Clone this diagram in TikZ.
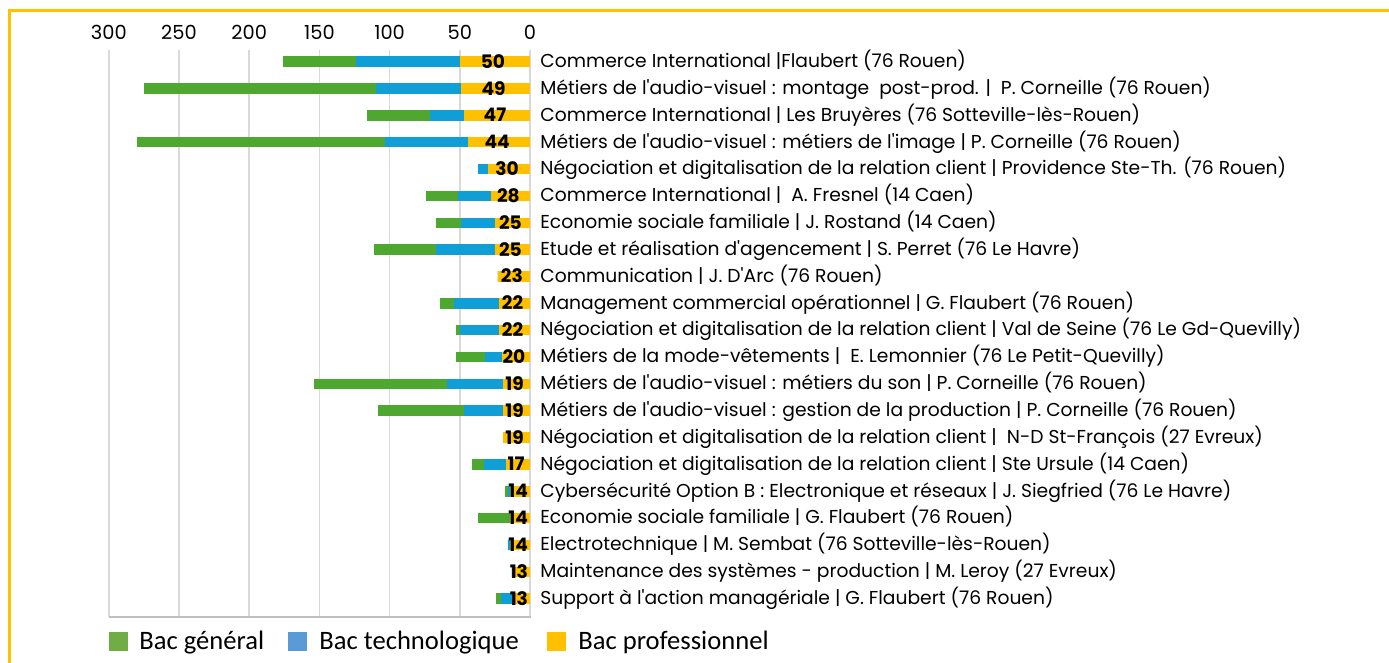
\documentclass[tikz,border=0pt]{standalone}
\usepackage{fontspec}
\setmainfont{Poppins}
\newfontfamily\legendfont{Carlito}
\usepackage{tikz}

\definecolor{bargen}{HTML}{4EA72E}
\definecolor{bartec}{HTML}{0F9ED5}
\definecolor{barpro}{HTML}{FFC000}
\definecolor{keygen}{HTML}{70AD47}
\definecolor{keytec}{HTML}{5B9BD5}
\definecolor{gridgray}{HTML}{D9D9D9}
\definecolor{axisgray}{HTML}{BFBFBF}

\tikzset{
  frameline/.style={barpro, line width=1.5pt},
  gridline/.style={gridgray, line width=0.75pt},
  axisline/.style={axisgray, line width=1pt},
  ticklabel/.style={anchor=base, inner sep=0pt, font=\fontsize{9.7}{12}\selectfont},
  catlabel/.style={anchor=base west, inner sep=0pt, font=\fontsize{9.35}{11}\selectfont},
  numlabel/.style={anchor=base, inner sep=0pt, font=\fontsize{9.3}{10}\selectfont\bfseries},
  keylabel/.style={anchor=base west, inner sep=0pt, font=\legendfont\fontsize{13.3}{15}\selectfont}
}

\begin{document}
\begin{tikzpicture}[x=0.5pt, y=-0.5pt]
	\useasboundingbox (0,0) rectangle (1389,663);
	% frame
	\draw [frameline] (9,663) -- (9,11) -- (1389,11);

	% grid and scale
	\foreach \v in {0,50,...,300} {
		\draw [gridline] ({530-1.404*\v},50) -- ({530-1.404*\v},617);
		\node [ticklabel] (tick\v) at ({530-1.404*\v},39.3) {\v};
	}
	\draw [axisline] (109,617) -- (531,617);

	% bars: professionnel / technologique / general / label
	\foreach \vp/\vt/\vg/\lab [count=\i] in {
		50/74/52/{Commerce International |Flaubert (76 Rouen)},
		49/61/165/{Métiers de l\textquotesingle audio-visuel : montage\ \ post-prod. |\ \ P. Corneille (76 Rouen)},
		47/24/45/{Commerce International | Les Bruyères (76 Sotteville-lès-Rouen)},
		44/59/177/{Métiers de l\textquotesingle audio-visuel : métiers de l\textquotesingle image | P. Corneille (76 Rouen)},
		30/7/0/{Négociation et digitalisation de la relation client | Providence Ste-Th. (76 Rouen)},
		28/23/23/{Commerce International |\ \ A. Fresnel (14 Caen)},
		25/24/18/{Economie sociale familiale | J. Rostand (14 Caen)},
		25/42/44/{Etude et réalisation d\textquotesingle agencement | S. Perret (76 Le Havre)},
		23/0/0/{Communication | J. D\textquotesingle Arc (76 Rouen)},
		22/32/10/{Management commercial opérationnel | G. Flaubert (76 Rouen)},
		22/28/3/{Négociation et digitalisation de la relation client | Val de Seine (76 Le Gd-Quevilly)},
		20/12/21/{Métiers de la mode-vêtements |\ \ E. Lemonnier (76 Le Petit-Quevilly)},
		19/40/95/{Métiers de l\textquotesingle audio-visuel : métiers du son | P. Corneille (76 Rouen)},
		19/28/61/{Métiers de l\textquotesingle audio-visuel : gestion de la production | P. Corneille (76 Rouen)},
		19/0/0/{Négociation et digitalisation de la relation client |\ \ N-D St-François (27 Evreux)},
		17/16/8/{Négociation et digitalisation de la relation client | Ste Ursule (14 Caen)},
		14/2/2/{Cybersécurité Option B : Electronique et réseaux | J. Siegfried (76 Le Havre)},
		14/0/23/{Economie sociale familiale | G. Flaubert (76 Rouen)},
		14/2/0/{Electrotechnique | M. Sembat (76 Sotteville-lès-Rouen)},
		13/0/0/{Maintenance des systèmes - production | M. Leroy (27 Evreux)},
		13/8/3/{Support à l\textquotesingle action managériale | G. Flaubert (76 Rouen)}} {
		\pgfmathsetmacro\yy{61.7+(\i-1)*26.85}
		\pgfmathsetmacro\xp{530-1.404*\vp}
		\pgfmathsetmacro\xt{\xp-1.404*\vt}
		\pgfmathsetmacro\xg{\xt-1.404*\vg}
		\fill [bargen] (\xt,\yy-5.25) rectangle (\xg,\yy+5.25);
		\fill [bartec] (\xp,\yy-5.25) rectangle (\xt,\yy+5.25);
		\fill [barpro] (530,\yy-5.25) rectangle (\xp,\yy+5.25);
		\node [numlabel] (num\i) at ({(530+\xp)/2-2},\yy+6.5) {\vp};
		\node [catlabel] (cat\i) at (540,\yy+5.8) {\lab};
	}

	% legend
	\fill [keygen] (109,632) rectangle (128,651);
	\fill [keytec] (288,632) rectangle (307,651);
	\fill [barpro] (547,632) rectangle (566,651);
	\node [keylabel] (keygen) at (139,649) {Bac général};
	\node [keylabel] (keytec) at (319,649) {Bac technologique};
	\node [keylabel] (keypro) at (578,649) {Bac professionnel};
\end{tikzpicture}
\end{document}
